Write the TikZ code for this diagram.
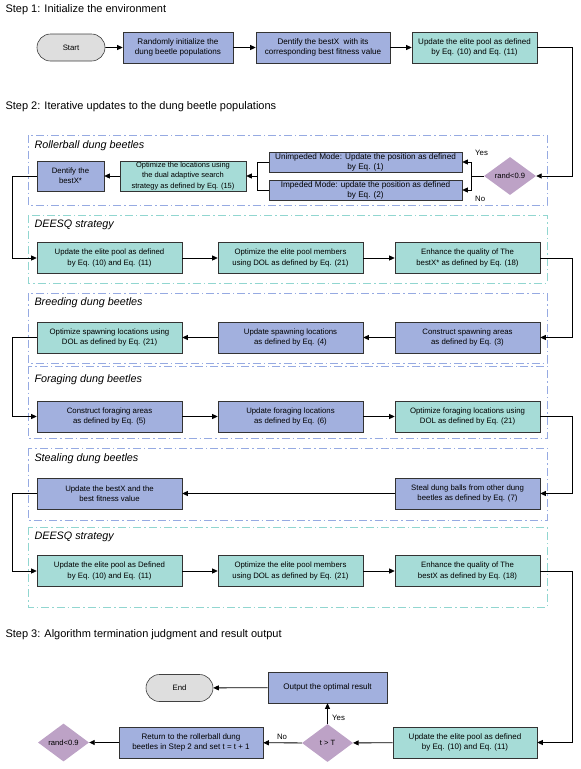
\documentclass[tikz,border=0pt]{standalone}
\usepackage{fontspec}
\setmainfont{Liberation Sans}
\usetikzlibrary{arrows.meta,shapes.geometric,shapes.misc}
\definecolor{bluef}{RGB}{162,176,222}
\definecolor{tealf}{RGB}{166,220,215}
\definecolor{mauvef}{RGB}{189,162,198}
\definecolor{grayf}{RGB}{222,222,222}
\definecolor{frblue}{RGB}{150,170,226}
\definecolor{frteal}{RGB}{145,214,208}
\begin{document}
\begin{tikzpicture}[x=1pt,y=-1pt,
  bbox/.style={draw=black!80, line width=0.6pt, fill=bluef, align=center,
    font=\fontsize{7.8}{10.3}\selectfont, inner sep=0pt, minimum height=31pt},
  tbox/.style={bbox, fill=tealf},
  dia/.style={diamond, fill=mauvef, inner sep=0pt, minimum width=52pt, minimum height=38pt,
    font=\fontsize{7.6}{10}\selectfont},
  term/.style={rounded rectangle, draw=black!75, line width=0.6pt, fill=grayf,
    minimum width=68pt, minimum height=27pt, inner sep=0pt, font=\fontsize{7.8}{10}\selectfont},
  arr/.style={draw=black, line width=0.8pt, -{Triangle[length=5.5pt,width=5pt]}},
  ln/.style={draw=black, line width=0.8pt},
  frb/.style={draw=frblue, line width=0.8pt, dash pattern=on 8pt off 3pt on 1.5pt off 3pt},
  frt/.style={draw=frteal, line width=0.8pt, dash pattern=on 8pt off 3pt on 1.5pt off 3pt},
  hdr/.style={anchor=west, font=\fontsize{11}{13}\selectfont},
  sec/.style={anchor=west, font=\fontsize{10.8}{13}\selectfont\itshape},
  lab/.style={font=\fontsize{7.8}{10}\selectfont, inner sep=0pt}
]
\useasboundingbox (0,0) rectangle (581,769);

% headers
\node[hdr] (h1) at (2,10) {Step 1: Initialize the environment};
\node[hdr] (h2) at (2,107) {Step 2: Iterative updates to the dung beetle populations};
\node[hdr] (h3) at (2,635) {Step 3: Algorithm termination judgment and result output};

% frames
\draw[frb] (28,135) rectangle (547,205);
\draw[frt] (28,215) rectangle (547,283);
\draw[frb] (28,293) rectangle (547,363);
\draw[frb] (28,366) rectangle (547,438);
\draw[frb] (28,448) rectangle (547,520);
\draw[frt] (28,527) rectangle (547,607);

\node[sec] (s1) at (31,146) {Rollerball dung beetles};
\node[sec] (s2) at (31,225) {DEESQ strategy};
\node[sec] (s3) at (31,303) {Breeding dung beetles};
\node[sec] (s4) at (31,380) {Foraging dung beetles};
\node[sec] (s5) at (31,459) {Stealing dung beetles};
\node[sec] (s6) at (31,537) {DEESQ strategy};

% step 1
\node[term] (start) at (71,47.5) {Start};
\node[bbox, minimum width=110pt, font=\fontsize{8.1}{10.5}\selectfont] (r1) at (178,47.5) {Randomly initialize the\\dung beetle populations};
\node[bbox, minimum width=134pt, font=\fontsize{8.1}{10.5}\selectfont] (r2) at (323,47.5) {Dentify the bestX\ \ with its\\corresponding best fitness value};
\node[tbox, minimum width=125pt, font=\fontsize{8}{10.5}\selectfont] (r3) at (474.5,47.5) {Update the elite pool as defined\\by Eq. (10) and Eq. (11)};
\draw[arr] (start) -- (r1);
\draw[arr] (r1) -- (r2);
\draw[arr] (r2) -- (r3);

% rollerball
\node[dia] (d1) at (510,176) {rand<0.9};
\node[bbox, minimum width=193pt, minimum height=20pt, font=\fontsize{8.2}{10}\selectfont] (un) at (365.5,162) {Unimpeded Mode: Update the position as defined\\by Eq. (1)};
\node[bbox, minimum width=193pt, minimum height=20pt, font=\fontsize{8.2}{10}\selectfont] (im) at (365.5,190) {Impeded Mode: update the position as defined\\by Eq. (2)};
\node[tbox, minimum width=126pt, minimum height=30pt, font=\fontsize{7.5}{10.3}\selectfont] (op) at (183,176) {Optimize the locations using\\the dual adaptive search\\strategy as defined by Eq. (15)};
\node[bbox, minimum width=67pt, minimum height=30pt] (bx) at (70.5,176) {Dentify the\\bestX*};
\draw[arr] (r3.east) -- ++(35,0) |- (d1.east);
\coordinate (j1) at (471,176);
\draw[ln] (d1.west) -- (j1);
\draw[arr] (j1) |- (un.east);
\draw[arr] (j1) |- (im.east);
\node[lab, anchor=west] (yes1) at (475,153) {Yes};
\node[lab, anchor=west] (no1) at (475,199) {No};
\coordinate (j2) at (257,176);
\draw[ln] (un.west) -| (j2);
\draw[ln] (im.west) -| (j2);
\draw[arr] (j2) -- (op.east);
\draw[arr] (op) -- (bx);

% DEESQ 1
\node[tbox, minimum width=145pt] (a1) at (109.5,258) {Update the elite pool as defined\\by Eq. (10) and Eq. (11)};
\node[tbox, minimum width=145pt] (a2) at (290.5,258) {Optimize the elite pool members\\using DOL as defined by Eq. (21)};
\node[tbox, minimum width=145pt] (a3) at (467.5,258) {Enhance the quality of The\\bestX* as defined by Eq. (18)};
\draw[arr] (bx.west) -- ++(-24,0) |- (a1.west);
\draw[arr] (a1) -- (a2);
\draw[arr] (a2) -- (a3);

% breeding
\node[tbox, minimum width=145pt] (b1) at (109.5,337.5) {Optimize spawning locations using\\DOL as defined by Eq. (21)};
\node[bbox, minimum width=145pt] (b2) at (290.5,337.5) {Update spawning locations\\as defined by Eq. (4)};
\node[bbox, minimum width=145pt] (b3) at (467.5,337.5) {Construct spawning areas\\as defined by Eq. (3)};
\draw[arr] (a3.east) -- ++(32,0) |- (b3.east);
\draw[arr] (b3) -- (b2);
\draw[arr] (b2) -- (b1);

% foraging
\node[bbox, minimum width=145pt] (f1) at (109.5,416.5) {Construct foraging areas\\as defined by Eq. (5)};
\node[bbox, minimum width=145pt] (f2) at (290.5,416.5) {Update foraging locations\\as defined by Eq. (6)};
\node[tbox, minimum width=145pt] (f3) at (467.5,416.5) {Optimize foraging locations using\\DOL as defined by Eq. (21)};
\draw[arr] (b1.west) -- ++(-24,0) |- (f1.west);
\draw[arr] (f1) -- (f2);
\draw[arr] (f2) -- (f3);

% stealing
\node[bbox, minimum width=145pt] (t1) at (109.5,493.5) {Update the bestX and the\\best fitness value};
\node[bbox, minimum width=145pt] (t3) at (467.5,493.5) {Steal dung balls from other dung\\beetles as defined by Eq. (7)};
\draw[arr] (f3.east) -- ++(32,0) |- (t3.east);
\draw[arr] (t3) -- (t1);

% DEESQ 2
\node[tbox, minimum width=145pt] (e1) at (109.5,571) {Update the elite pool as Defined\\by Eq. (10) and Eq. (11)};
\node[tbox, minimum width=145pt] (e2) at (290.5,571) {Optimize the elite pool members\\using DOL as defined by Eq. (21)};
\node[tbox, minimum width=145pt] (e3) at (467.5,571) {Enhance the quality of The\\bestX as defined by Eq. (18)};
\draw[arr] (t1.west) -- ++(-24,0) |- (e1.west);
\draw[arr] (e1) -- (e2);
\draw[arr] (e2) -- (e3);

% step 3
\node[tbox, minimum width=144pt, font=\fontsize{8}{10.5}\selectfont] (u) at (465,742.5) {Update the elite pool as defined\\by Eq. (10) and Eq. (11)};
\node[dia, minimum width=51pt] (tt) at (327.5,743) {t > T};
\node[bbox, minimum width=119pt, font=\fontsize{8.1}{10.5}\selectfont] (out) at (327.5,687.5) {Output the optimal result};
\node[term, minimum width=67pt] (end) at (179.5,688) {End};
\node[bbox, minimum width=144pt, font=\fontsize{8}{10.5}\selectfont] (ret) at (191,742.5) {Return to the rollerball dung\\beetles in Step 2 and set t = t + 1};
\node[dia, minimum width=51pt] (d2) at (63.5,742.5) {rand<0.9};
\draw[arr] (e3.east) -- ++(32,0) |- (u.east);
\draw[arr] (u) -- (tt);
\draw[arr] (tt) -- (out);
\draw[arr] (out) -- (end);
\draw[arr] (tt) -- (ret);
\draw[arr] (ret) -- (d2);
\node[lab, anchor=west] (yes2) at (332,718) {Yes};
\node[lab] (no2) at (282,736.5) {No};
\end{tikzpicture}
\end{document}
